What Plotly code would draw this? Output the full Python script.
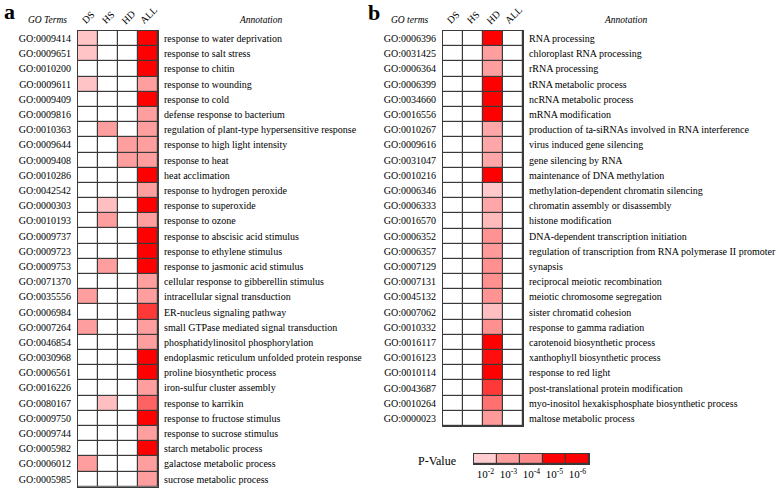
import plotly.graph_objects as go

FONT = "Liberation Serif, Times New Roman, serif"
GRID = "#3a3a3a"

COLS = ["DS", "HS", "HD", "ALL"]

# panel a: GO terms enriched in ALL
A_IDS = ["GO:0009414", "GO:0009651", "GO:0010200", "GO:0009611", "GO:0009409",
         "GO:0009816", "GO:0010363", "GO:0009644", "GO:0009408", "GO:0010286",
         "GO:0042542", "GO:0000303", "GO:0010193", "GO:0009737", "GO:0009723",
         "GO:0009753", "GO:0071370", "GO:0035556", "GO:0006984", "GO:0007264",
         "GO:0046854", "GO:0030968", "GO:0006561", "GO:0016226", "GO:0080167",
         "GO:0009750", "GO:0009744", "GO:0005982", "GO:0006012", "GO:0005985"]
A_NAMES = ["response to water deprivation", "response to salt stress", "response to chitin",
           "response to wounding", "response to cold", "defense response to bacterium",
           "regulation of plant-type hypersensitive response", "response to high light intensity",
           "response to heat", "heat acclimation", "response to hydrogen peroxide",
           "response to superoxide", "response to ozone", "response to abscisic acid stimulus",
           "response to ethylene stimulus", "response to jasmonic acid stimulus",
           "cellular response to gibberellin stimulus", "intracellular signal transduction",
           "ER-nucleus signaling pathway", "small GTPase mediated signal transduction",
           "phosphatidylinositol phosphorylation", "endoplasmic reticulum unfolded protein response",
           "proline biosynthetic process", "iron-sulfur cluster assembly", "response to karrikin",
           "response to fructose stimulus", "response to sucrose stimulus", "starch metabolic process",
           "galactose metabolic process", "sucrose metabolic process"]
# -log10(P), 0 = not enriched
A_DS = [2.2, 2.2, 0, 2.2, 0, 0, 0, 0, 0, 0, 0, 0, 0, 0, 0,
        0, 0, 3, 0, 3, 0, 0, 0, 0, 0, 0, 0, 0, 3, 0]
A_HS = [0, 0, 0, 0, 0, 0, 3, 0, 0, 0, 0, 2.3, 3, 0, 0,
        3, 0, 0, 0, 0, 0, 0, 0, 0, 2.3, 0, 0, 0, 0, 0]
A_HD = [0, 0, 0, 0, 0, 0, 0, 3, 3, 0, 0, 0, 0, 0, 0,
        0, 0, 0, 0, 0, 0, 0, 0, 0, 0, 0, 0, 0, 0, 0]
A_ALL = [5.5, 5.5, 5.5, 3, 5.2, 3, 3, 3, 3, 5.5, 3, 5.5, 3, 5.5, 5.5,
         5.5, 3, 3, 4.6, 3, 3, 5.5, 5.5, 3, 4.3, 5.5, 3, 5.5, 3, 3]

# panel b: GO terms enriched in HD
B_IDS = ["GO:0006396", "GO:0031425", "GO:0006364", "GO:0006399", "GO:0034660",
         "GO:0016556", "GO:0010267", "GO:0009616", "GO:0031047", "GO:0010216",
         "GO:0006346", "GO:0006333", "GO:0016570", "GO:0006352", "GO:0006357",
         "GO:0007129", "GO:0007131", "GO:0045132", "GO:0007062", "GO:0010332",
         "GO:0016117", "GO:0016123", "GO:0010114", "GO:0043687", "GO:0010264",
         "GO:0000023"]
B_NAMES = ["RNA processing", "chloroplast RNA processing", "rRNA processing",
           "tRNA metabolic process", "ncRNA metabolic process", "mRNA modification",
           "production of ta-siRNAs involved in RNA interference", "virus induced gene silencing",
           "gene silencing by RNA", "maintenance of DNA methylation",
           "methylation-dependent chromatin silencing", "chromatin assembly or disassembly",
           "histone modification", "DNA-dependent transcription initiation",
           "regulation of transcription from RNA polymerase II promoter", "synapsis",
           "reciprocal meiotic recombination", "meiotic chromosome segregation",
           "sister chromatid cohesion", "response to gamma radiation",
           "carotenoid biosynthetic process", "xanthophyll biosynthetic process",
           "response to red light", "post-translational protein modification",
           "myo-inositol hexakisphosphate biosynthetic process", "maltose metabolic process"]
B_DS = [0] * 26
B_HS = [0] * 26
B_HD = [5.5, 3, 3, 5.5, 5.5, 5.5, 2.8, 2.8, 2.8, 5.5, 2.1, 2.8, 2.4,
        3.6, 3.2, 3.8, 3.8, 3.6, 2.3, 3.8, 5.5, 4.9, 5.2, 4.6, 4.2, 3.2]
B_ALL = [0] * 26

LEG_VALS = [2, 3, 4, 5, 6]
LEG_LABELS = ["10<sup>-2</sup>", "10<sup>-3</sup>", "10<sup>-4</sup>", "10<sup>-5</sup>", "10<sup>-6</sup>"]

SCALE = [[0, "#ffffff"], [0.3, "#ffffff"], [2 / 6, "#ffcdd0"], [3 / 6, "#ff9e9e"],
         [4 / 6, "#ff8c8c"], [5 / 6, "#ff0000"], [1, "#ff0000"]]


def cell_rows(*cols):
    return [list(r) for r in zip(*cols)]


fig = go.Figure()
fig.add_trace(go.Heatmap(z=cell_rows(A_DS, A_HS, A_HD, A_ALL), x=COLS, y=A_IDS,
                         colorscale=SCALE, zmin=0, zmax=6, showscale=False,
                         xgap=1.2, ygap=1.2, xaxis="x", yaxis="y", hoverinfo="skip"))
fig.add_trace(go.Heatmap(z=cell_rows(B_DS, B_HS, B_HD, B_ALL), x=COLS, y=B_IDS,
                         colorscale=SCALE, zmin=0, zmax=6, showscale=False,
                         xgap=1.2, ygap=1.2, xaxis="x2", yaxis="y2", hoverinfo="skip"))
fig.add_trace(go.Heatmap(z=[LEG_VALS], x=LEG_LABELS, y=["p"],
                         colorscale=SCALE, zmin=0, zmax=6, showscale=False,
                         xgap=1.2, ygap=1.2, xaxis="x3", yaxis="y3", hoverinfo="skip"))

frame = dict(showline=True, mirror=True, linecolor=GRID, linewidth=1,
             showgrid=False, zeroline=False, ticks="", fixedrange=True)
tick_font = dict(family=FONT, size=10, color="black")
ncol = len(COLS)

fig.update_layout(
    width=778, height=488,
    margin=dict(l=0, r=0, t=0, b=0),
    paper_bgcolor="white", plot_bgcolor=GRID,
    font=dict(family=FONT, color="black"),
    showlegend=False,
    xaxis=dict(domain=[78 / 778, 158 / 778], range=[-0.5, ncol - 0.5], showticklabels=False,
               anchor="y", **frame),
    yaxis=dict(domain=[1 - 486.7 / 488, 1 - 31 / 488], range=[len(A_IDS) - 0.5, -0.5],
               type="category", tickfont=tick_font, ticklabelstandoff=4, anchor="x", **frame),
    xaxis2=dict(domain=[443 / 778, 523 / 778], range=[-0.5, ncol - 0.5], showticklabels=False,
                anchor="y2", **frame),
    yaxis2=dict(domain=[1 - 426 / 488, 1 - 31 / 488], range=[len(B_IDS) - 0.5, -0.5],
                type="category", tickfont=tick_font, ticklabelstandoff=4, anchor="x2", **frame),
    xaxis3=dict(domain=[474 / 778, 589 / 778], range=[-0.5, len(LEG_VALS) - 0.5], anchor="y3",
                type="category", tickfont=dict(family=FONT, size=11, color="black"), **frame),
    yaxis3=dict(domain=[1 - 464 / 488, 1 - 454 / 488], range=[-0.5, 0.5], showticklabels=False,
                anchor="x3", **frame),
)

ann = []
for ids, names, xd, yd in [(A_IDS, A_NAMES, "x domain", "y"), (B_IDS, B_NAMES, "x2 domain", "y2")]:
    for gid, name in zip(ids, names):
        ann.append(dict(text=name, xref=xd, x=1, xanchor="left", xshift=4,
                        yref=yd, y=gid, yanchor="middle", showarrow=False,
                        font=dict(family=FONT, size=10, color="black")))
    for c in COLS:
        ann.append(dict(text=c, xref=xd.split()[0], x=c, xanchor="center", yref=yd + " domain", y=1,
                        yanchor="bottom", yshift=2, textangle=-45, showarrow=False,
                        font=dict(family=FONT, size=10, color="black")))


def label(text, x, y, size, **kw):
    return dict(text=text, x=x / 778, y=1 - y / 488, xref="paper", yref="paper",
                xanchor="center", yanchor="middle", showarrow=False,
                font=dict(family=FONT, size=size, color="black"), **kw)


ann += [
    label("<i>GO Terms</i>", 47, 20, 9.5),
    label("<i>Annotation</i>", 260, 20, 9.5),
    label("<i>GO terms</i>", 410, 20, 9.5),
    label("<i>Annotation</i>", 625, 20, 9.5),
    label("<b>a</b>", 9, 11, 22),
    label("<b>b</b>", 374, 12, 22),
    label("P-Value", 437, 461, 12),
]
fig.update_layout(annotations=ann)

# the page body has an 8px default margin; drop it so the figure fills the window
fig.write_html("out.html", config={"displayModeBar": False},
               post_script="document.body.style.margin='0';")
